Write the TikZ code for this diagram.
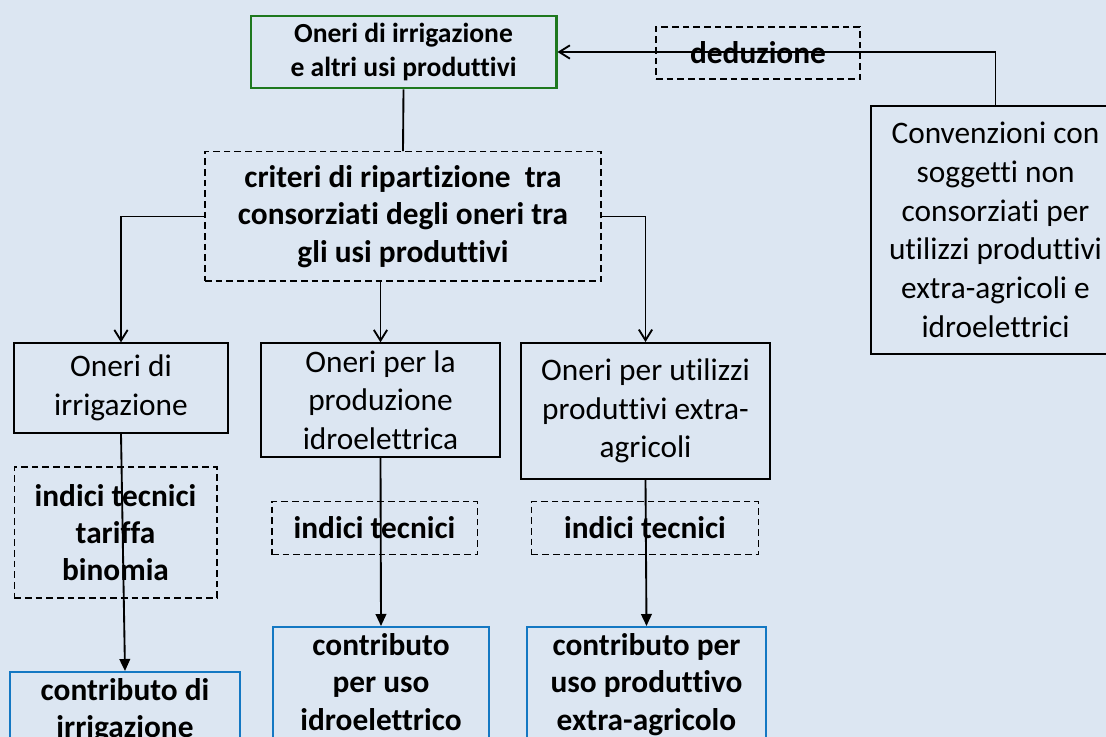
\documentclass[tikz,border=0pt]{standalone}
\usepackage{fontspec}
\setmainfont[Ligatures={NoCommon}]{Carlito}
\usetikzlibrary{arrows.meta}
\definecolor{bgblue}{RGB}{220,230,242}
\definecolor{boxgreen}{RGB}{30,120,30}
\definecolor{boxblue}{RGB}{20,120,195}
\tikzset{
  box/.style={draw, line width=1.5pt, align=center, inner sep=0pt},
  dbox/.style={box, dashed, dash pattern=on 5pt off 3pt, line width=1pt},
  regtext/.style={font=\fontsize{23.5}{29}\selectfont},
  boldtext/.style={font=\bfseries\fontsize{23.5}{28}\selectfont},
  openarr/.style={line width=1.4pt, -{Straight Barb[length=8pt, width=10pt]}},
  fillarr/.style={line width=1.4pt, -{Triangle[length=9pt, width=8pt]}},
  plain/.style={line width=1.4pt}
}
\begin{document}
\begin{tikzpicture}[x=0.75pt, y=-0.75pt]
			\fill[bgblue] (0,0) rectangle (1106,737);
			\clip (0,0) rectangle (1106,737);
			\useasboundingbox (0,0) rectangle (1106,737);
			\node[box, boldtext, draw=boxgreen, line width=2pt, font=\bfseries\fontsize{20.7}{26}\selectfont,
				minimum width=229pt, minimum height=54pt] (top) at (403.5,52) {Oneri di irrigazione\\e altri usi produttivi};
			\node[dbox, boldtext, minimum width=153pt, minimum height=39pt] (ded) at (758,53) {deduzione};
			\node[box, regtext, minimum width=187pt, minimum height=186pt] (conv) at (995.5,230)
				{Convenzioni con\\soggetti non\\consorziati per\\utilizzi produttivi\\extra-agricoli e\\idroelettrici};
			\node[dbox, boldtext, minimum width=297pt, minimum height=97pt] (crit) at (403,216.5)
				{criteri di ripartizione\ \ tra\\consorziati degli oneri tra\\gli usi produttivi};
			\node[box, regtext, minimum width=160pt, minimum height=67pt] (o1) at (121,388) {Oneri di\\irrigazione};
			\node[box, regtext, minimum width=179pt, minimum height=85pt] (o2) at (380.5,400) {Oneri per la\\produzione\\idroelettrica};
			\node[box, regtext, minimum width=187pt, minimum height=102pt] (o3) at (645.5,411) {Oneri per utilizzi\\produttivi extra-\\agricoli};
			\node[dbox, boldtext, minimum width=152pt, minimum height=98pt] (i1) at (115.5,532.5) {indici tecnici\\tariffa\\binomia};
			\node[dbox, boldtext, minimum width=154pt, minimum height=40pt] (i2) at (374.5,528) {indici tecnici};
			\node[dbox, boldtext, minimum width=170pt, minimum height=40pt] (i3) at (645,528) {indici tecnici};
			\node[box, boldtext, draw=boxblue, anchor=north, minimum width=172pt, inner ysep=5pt] (c1) at (125,671)
				{contributo di\\irrigazione\\ };
			\node[box, boldtext, draw=boxblue, anchor=north, minimum width=162pt, inner ysep=5pt] (c2) at (381,626)
				{contributo\\per uso\\idroelettrico\\ };
			\node[box, boldtext, draw=boxblue, anchor=north, minimum width=179pt, inner ysep=5pt] (c3) at (646.5,626)
				{contributo per\\uso produttivo\\extra-agricolo\\ };
			\draw[openarr] (conv.north) |- (top.east);
			\draw[plain] (top.south) -- (crit.north);
			\draw[openarr] (crit.west) -| (o1.north);
			\draw[openarr] (crit.south -| o2.north) -- (o2.north);
			\draw[openarr] (crit.east) -| (o3.north);
			\draw[fillarr] (o1.south) -- (c1.north);
			\draw[fillarr] (o2.south) -- (c2.north);
			\draw[fillarr] (o3.south) -- (c3.north);
		\end{tikzpicture}
\end{document}
